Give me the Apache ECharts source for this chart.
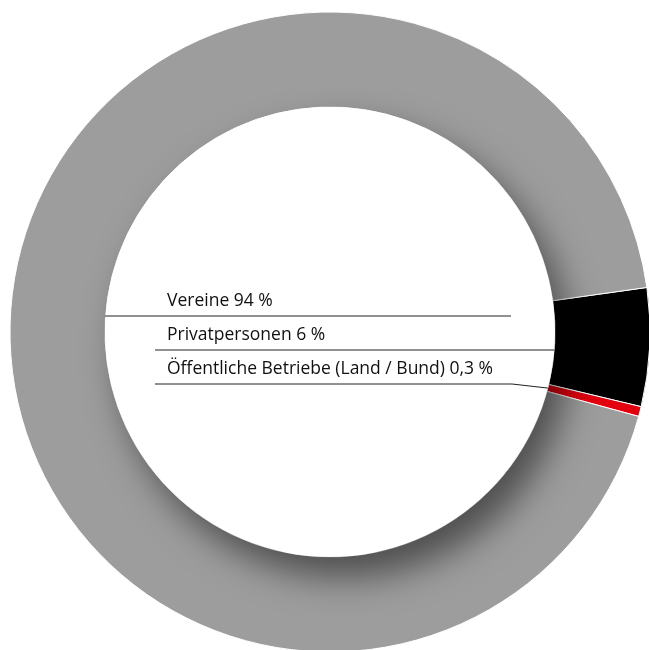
<!DOCTYPE html>
<html><head><meta charset="utf-8">
<script src="https://cdn.jsdelivr.net/npm/echarts@6/dist/echarts.min.js"></script>
<style>html,body{margin:0;padding:0;background:#fff}#c{width:649px;height:650px}</style>
</head><body><div id="c"></div>
<script>
const categories = ['Privatpersonen', 'Öffentliche Betriebe (Land / Bund)', 'Vereine'];
const values = [6, 0.3, 94];
const colors = ['#000000', '#e3000f', '#9d9d9d'];
const rowOrder = [1, 2, 0]; // top-to-bottom row of each label

const CX = 330, CY = 332, R_IN = 225, R_OUT = 320, START = 8, MIN_ANGLE = 1.8;
const ROW0 = 316, ROWSTEP = 34, TEXT_X = 167, LINE_X = 155;

const chart = echarts.init(document.getElementById('c'), null, {renderer: 'canvas'});
const data = categories.map((n, i) => ({name: n, value: values[i], itemStyle: {color: colors[i]}}));

function innerXAtY(y) { return CX + Math.sqrt(R_IN * R_IN - (y - CY) * (y - CY)); }

function layout(params) {
  const i = params.dataIndex;
  const row = rowOrder[i];
  const ly = ROW0 + row * ROWSTEP;
  let pts;
  if (row === 0) {
    pts = [[CX - R_IN, ly], [511, ly], [511, ly]];
  } else if (row === 1) {
    pts = [[LINE_X, ly], [innerXAtY(ly) , ly], [innerXAtY(ly), ly]];
  } else {
    const total = values.reduce((a, b) => a + b, 0);
    const ang = (START - 360 * values[0] / total - MIN_ANGLE / 2) * Math.PI / 180;
    pts = [[LINE_X, ly], [512, ly], [CX + R_IN * Math.cos(ang), CY - R_IN * Math.sin(ang)]];
  }
  return {x: TEXT_X, y: ly - 6, align: 'left', verticalAlign: 'bottom', labelLinePoints: pts};
}

chart.setOption({
  animation: false,
  backgroundColor: '#fff',
  series: [
    {
      type: 'pie', z: 2, center: [CX, CY], radius: [R_IN, R_OUT], startAngle: START, clockwise: true,
      minAngle: MIN_ANGLE, silent: true, avoidLabelOverlap: false,
      itemStyle: {borderColor: '#fff', borderWidth: 1},
      label: {show: false}, labelLine: {show: false},
      data: data
    },
    {
      type: 'pie', z: 3, center: [CX, CY], radius: [0, R_IN], silent: true,
      label: {show: false}, labelLine: {show: false},
      itemStyle: {color: '#fff', shadowBlur: 35, shadowColor: 'rgba(0,0,0,0.5)', shadowOffsetX: 14, shadowOffsetY: 20},
      data: [{name: 'hole', value: 1}]
    },
    {
      type: 'pie', z: 4, center: [CX, CY], radius: [R_IN, R_OUT], startAngle: START, clockwise: true,
      minAngle: MIN_ANGLE, silent: true, avoidLabelOverlap: false,
      itemStyle: {color: 'rgba(0,0,0,0)', borderWidth: 0},
      label: {
        show: true, position: 'outside', color: '#111', fontSize: 17.5, fontFamily: 'Open Sans',
        formatter: p => p.name + ' ' + String(p.value).replace('.', ',') + ' %'
      },
      labelLine: {show: true, smooth: false, lineStyle: {color: '#222', width: 1}},
      labelLayout: layout,
      data: categories.map((n, i) => ({name: n, value: values[i]}))
    }
  ]
});
</script></body></html>
